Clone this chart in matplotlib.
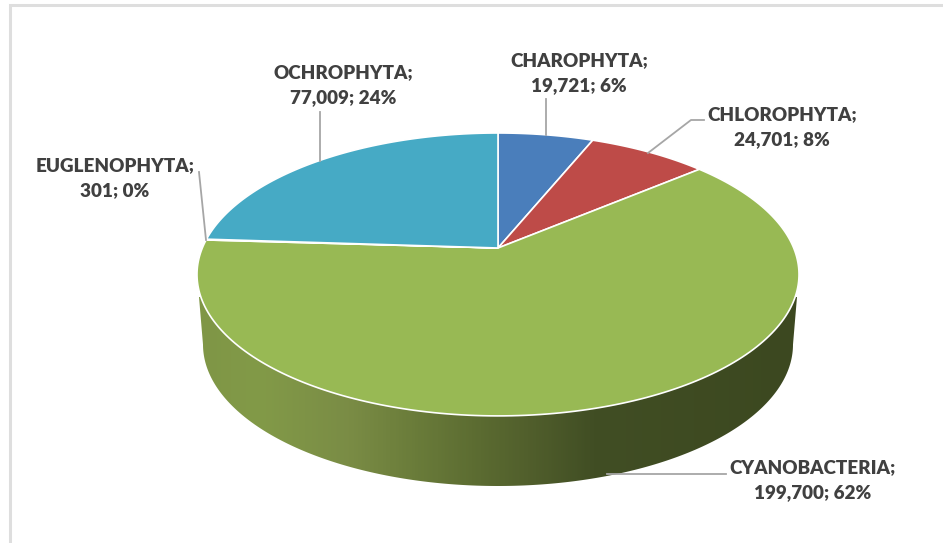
import numpy as np
import matplotlib
matplotlib.use("Agg")
import matplotlib.pyplot as plt
from matplotlib.colors import LinearSegmentedColormap
from matplotlib.patches import Polygon

names = ["CHAROPHYTA", "CHLOROPHYTA", "CYANOBACTERIA", "EUGLENOPHYTA", "OCHROPHYTA"]
values = [19721, 24701, 199700, 301, 77009]
colors = ["#4a7ebb", "#be4b48", "#98b954", "#7d60a0", "#46aac5"]

# label centres, leader lines (pixels of the 943x543 picture)
label_pos = [(579, 73), (782, 127), (813, 480), (115, 178), (343, 85)]
leaders = [
    [(546, 135), (546, 99)],
    [(648, 153), (691, 120), (704, 120)],
    [(607, 474), (726, 474)],
    [(206, 240), (199, 172)],
    [(320, 161), (320, 112)],
]

cx, cy = 498, 248
persp = 0.187
qx, qy = 295.7, 136.5
depth = 70


def project(theta):
    # circle seen in perspective, theta clockwise from the top
    u, v = np.sin(theta), np.cos(theta)
    return cx + qx * u / (1 + persp * v), cy - qy * v / (1 + persp * v)


fig = plt.figure(figsize=(9.43, 5.43), dpi=100)
ax = fig.add_axes([0, 0, 1, 1])
ax.set_xlim(0, 943)
ax.set_ylim(543, 0)
ax.axis("off")

# chart frame, only top and left show
ax.plot([10, 10, 943], [543, 5, 5], color="#dedede", lw=2.2, solid_joinstyle="miter")

# side wall
t = np.linspace(0, np.pi, 200)
wall_x = np.r_[199, 498 - 295 * np.cos(t), 797]
wall_y = np.r_[297, 344.5 + 141.5 * np.sin(t), 297]
wall = Polygon(np.c_[wall_x, wall_y], closed=True, fc="none", ec="none")
ax.add_patch(wall)
shade = LinearSegmentedColormap.from_list("shade", [
    (0.00, "#7f9646"), (0.10, "#829a48"), (0.25, "#7a8c45"), (0.36, "#6a7c3a"),
    (0.47, "#5b6b31"), (0.55, "#515f2c"), (0.66, "#414e24"), (1.00, "#3c4820"),
])
img = ax.imshow(np.linspace(0, 1, 300)[None, :], cmap=shade, aspect="auto",
                extent=(199, 797, 486, 297), zorder=1)
img.set_clip_path(wall)
ax.set_xlim(0, 943)
ax.set_ylim(543, 0)

# top of the pie
edges = np.r_[0, np.cumsum(values)] / sum(values) * 2 * np.pi
for i in range(len(values)):
    th = np.linspace(edges[i], edges[i + 1], 200)
    px, py = project(th)
    ax.fill(np.r_[cx, px], np.r_[cy, py], fc=colors[i], ec="white", lw=1.2, zorder=2,
            joinstyle="round")

for pts in leaders:
    xs, ys = zip(*pts)
    ax.plot(xs, ys, color="#a6a6a6", lw=1.3, zorder=3)

for name, val, pos in zip(names, values, label_pos):
    pct = val / sum(values) * 100
    ax.text(pos[0], pos[1], f"{name};\n{val:,}; {pct:.0f}%", ha="center", va="center",
            family="Lato", weight=800, fontsize=13.6, color="#404040", linespacing=1.58,
            zorder=4)

fig.savefig("out.png", dpi=100)
